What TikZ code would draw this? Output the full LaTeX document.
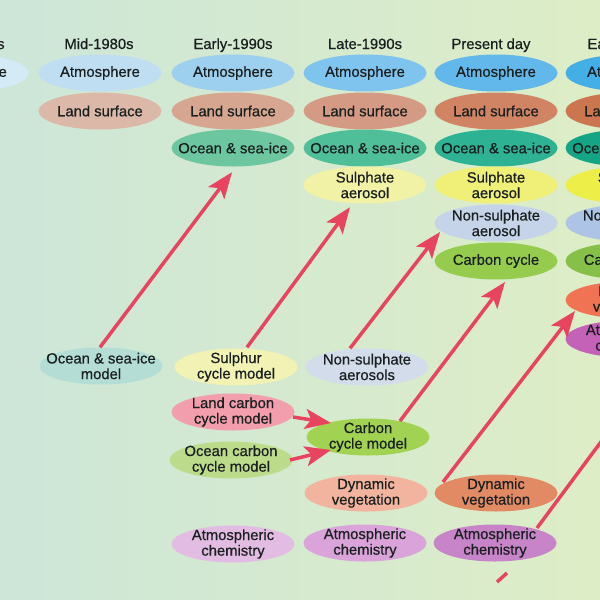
\documentclass[tikz,border=0pt]{standalone}
\usepackage{fontspec}
\setmainfont{Liberation Sans}
\newfontfamily\heavy{Liberation Sans}[FakeBold=0.6]
\usetikzlibrary{shapes.geometric,arrows.meta,calc}
\definecolor{bgL}{HTML}{CDE6D8}
\definecolor{bgR}{HTML}{DDEDC6}
\definecolor{txtc}{HTML}{1A1F1F}
\definecolor{arrc}{HTML}{E8435F}
% atmosphere
\definecolor{at0}{HTML}{D4EAF6}
\definecolor{at1}{HTML}{C0DEF2}
\definecolor{at2}{HTML}{9DCFEE}
\definecolor{at3}{HTML}{7EC4EE}
\definecolor{at4}{HTML}{62B8EA}
\definecolor{at5}{HTML}{44AEE6}
% land
\definecolor{ld1}{HTML}{DCB8A8}
\definecolor{ld2}{HTML}{D6A690}
\definecolor{ld3}{HTML}{D49A84}
\definecolor{ld4}{HTML}{D08464}
\definecolor{ld5}{HTML}{CC7650}
% ocean
\definecolor{oc2}{HTML}{6CC6A0}
\definecolor{oc3}{HTML}{4FBF9A}
\definecolor{oc4}{HTML}{2DB294}
\definecolor{oc5}{HTML}{14A486}
% sulphate
\definecolor{su3}{HTML}{F2F2A6}
\definecolor{su4}{HTML}{F0F078}
\definecolor{su5}{HTML}{EEEE48}
% non-sulphate
\definecolor{ns4}{HTML}{C6D4EA}
\definecolor{ns5}{HTML}{ADC4E6}
% carbon
\definecolor{cb4}{HTML}{96CC4E}
\definecolor{cb5}{HTML}{86C048}
% others
\definecolor{vg5}{HTML}{F07454}
\definecolor{ch5}{HTML}{C462B8}
\definecolor{ocmC}{HTML}{B4DDD6}
\definecolor{scmC}{HTML}{F2F2B4}
\definecolor{nsaC}{HTML}{D2DCEA}
\definecolor{lcmC}{HTML}{F29EAC}
\definecolor{occC}{HTML}{BCDC8C}
\definecolor{ccmC}{HTML}{A2D252}
\definecolor{dv3C}{HTML}{F2B49E}
\definecolor{dv4C}{HTML}{E28A64}
\definecolor{ac2C}{HTML}{E2BCE2}
\definecolor{ac3C}{HTML}{DAA4DA}
\definecolor{ac4C}{HTML}{C884C8}
\begin{document}
\begin{tikzpicture}[x=1pt,y=-1pt,
  txt/.style={font=\heavy\fontsize{14.8}{15.6}\selectfont, text=txtc, align=center, inner sep=0pt},
  hdr/.style={txt, anchor=base},
  ov/.style 2 args={shape=ellipse, fill=#1, draw=none, minimum width=123pt, minimum height=37pt, inner sep=0pt, label={[txt]center:{#2}}},
  arr/.style={draw=arrc, line width=3.5pt, -{Stealth[length=26pt,width=20pt,inset=6pt]}},
  stub/.style={draw=arrc, line width=3.5pt}]
\useasboundingbox (0,0) rectangle (600,600);
\clip (0,0) rectangle (600,600);
\shade[left color=bgL, right color=bgR] (0,0) rectangle (600,600);

% headers
\node[hdr] (h0) at (-30,49) {Mid-1970s};
\node[hdr] (h1) at (99,49) {Mid-1980s};
\node[hdr] (h2) at (233,49) {Early-1990s};
\node[hdr] (h3) at (365,49) {Late-1990s};
\node[hdr] (h4) at (491,49) {Present day};
\node[hdr] (h5) at (627,49) {Early-2010s};

% left partial column
\node[ov={at0}{Atmosphere}] (a0) at (-33,73) {};
% Mid-1980s
\node[ov={at1}{Atmosphere}] (a1) at (100,73) {};
\node[ov={ld1}{Land surface}] (l1) at (100,111) {};
% Early-1990s
\node[ov={at2}{Atmosphere}] (a2) at (233,73) {};
\node[ov={ld2}{Land surface}] (l2) at (233,111) {};
\node[ov={oc2}{Ocean \& sea-ice}] (o2) at (233,148) {};
% Late-1990s
\node[ov={at3}{Atmosphere}] (a3) at (365,73) {};
\node[ov={ld3}{Land surface}] (l3) at (365,111) {};
\node[ov={oc3}{Ocean \& sea-ice}] (o3) at (365,148) {};
\node[ov={su3}{Sulphate\\aerosol}] (s3) at (365,185) {};
% Present day
\node[ov={at4}{Atmosphere}] (a4) at (496,73) {};
\node[ov={ld4}{Land surface}] (l4) at (496,111) {};
\node[ov={oc4}{Ocean \& sea-ice}] (o4) at (496,148) {};
\node[ov={su4}{Sulphate\\aerosol}] (s4) at (496,185) {};
\node[ov={ns4}{Non-sulphate\\aerosol}] (n4) at (496,223) {};
\node[ov={cb4}{Carbon cycle}] (c4) at (496,261) {};
% right column
\node[ov={at5}{Atmosphere}] (a5) at (627,73) {};
\node[ov={ld5}{Land surface}] (l5) at (627,111) {};
\node[ov={oc5}{Ocean \& sea-ice}] (o5) at (627,148) {};
\node[ov={su5}{Sulphate\\aerosol}] (s5) at (627,185) {};
\node[ov={ns5}{Non-sulphate\\aerosol}] (n5) at (627,223) {};
\node[ov={cb5}{Carbon cycle}] (c5) at (627,261) {};
\node[ov={vg5}{Dynamic\\vegetation}] (v5) at (627,300) {};
\node[ov={ch5}{Atmospheric\\chemistry}] (ch5) at (627,339) {};

% lower section
\node[ov={ocmC}{Ocean \& sea-ice\\model}] (ocm) at (101,366) {};
\node[ov={scmC}{Sulphur\\cycle model}] (scm) at (236,367) {};
\node[ov={nsaC}{Non-sulphate\\aerosols}] (nsa) at (367,367) {};
\node[ov={lcmC}{Land carbon\\cycle model}] (lcm) at (233,412) {};
\node[ov={occC}{Ocean carbon\\cycle model}] (occm) at (231,460) {};
\node[ov={ccmC}{Carbon\\cycle model}] (ccm) at (368,437) {};
\node[ov={dv3C}{Dynamic\\vegetation}] (dv3) at (366,493) {};
\node[ov={dv4C}{Dynamic\\vegetation}] (dv4) at (496,493) {};
\node[ov={ac2C}{Atmospheric\\chemistry}] (ac2) at (233,544) {};
\node[ov={ac3C}{Atmospheric\\chemistry}] (ac3) at (365,543) {};
\node[ov={ac4C}{Atmospheric\\chemistry}] (ac4) at (495,543) {};

% arrows
\draw[arr] ($(ocm.north)+(-1,0)$) -- ($(o2.south)+(-1,5.5)$);
\draw[arr] ($(scm.north)+(11,-1)$) -- ($(s3.south)+(-15,3.5)$);
\draw[arr] ($(nsa.north)+(-17,0)$) -- ($(n4.center)+(-56,9)$);
\draw[arr] ($(ccm.center)+(32,-16)$) -- ($(c4.center)+(9,21)$);
\draw[arr] ($(dv4.center)+(-53,-11)$) -- ($(v5.center)+(-52,11)$);
\coordinate (far) at ($(ac4.center)+(42,-15)+(95,-128)$);
\draw[arr] ($(ac4.center)+(42,-15)$) -- (far);
\draw[arr] ($(lcm.center)+(60,5)$) -- ($(ccm.center)+(-37,-14)$);
\draw[arr] ($(occm.center)+(59,0)$) -- ($(ccm.center)+(-37,13)$);
\coordinate (stA) at (497,582);
\coordinate (stB) at (507,573);
\draw[stub] (stA) -- (stB);
\end{tikzpicture}
\end{document}
